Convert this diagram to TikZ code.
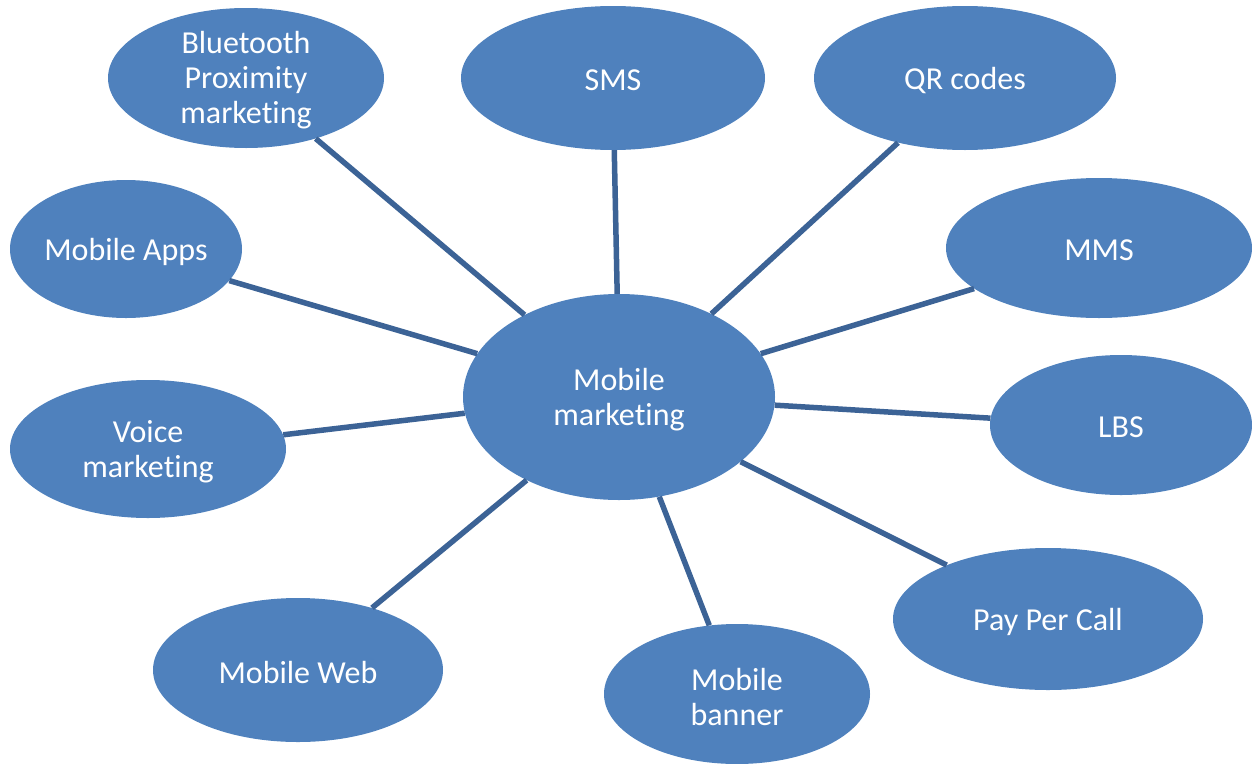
\documentclass[tikz,border=0pt]{standalone}
\usepackage{fontspec}
\setmainfont{Carlito}[Ligatures=NoCommon]
\usetikzlibrary{shapes.geometric}
\definecolor{blobfill}{RGB}{79,129,189}
\definecolor{linkcol}{RGB}{60,99,150}
\tikzset{
  blob/.style={ellipse, fill=blobfill, draw=none, inner sep=0pt},
  txt/.style={text=white, align=center, font=\fontsize{32}{35}\selectfont, inner sep=0pt, yshift=-2.5pt},
  link/.style={draw=linkcol, line width=5.5pt}
}
\begin{document}
\begin{tikzpicture}[x=1pt,y=-1pt]
\useasboundingbox (0,0) rectangle (1252,763);
\node[blob, minimum width=312pt, minimum height=206pt, label={[txt]center:Mobile\\marketing}] (mm) at (619,397) {};
\node[blob, minimum width=276pt, minimum height=140pt, label={[txt]center:Bluetooth\\Proximity\\marketing}] (bt) at (246,78) {};
\node[blob, minimum width=304pt, minimum height=144pt, label={[txt]center:SMS}] (sms) at (613,78) {};
\node[blob, minimum width=302pt, minimum height=144pt, label={[txt]center:QR codes}] (qr) at (965,78) {};
\node[blob, minimum width=232pt, minimum height=138pt, label={[txt]center:Mobile Apps}] (apps) at (126,249) {};
\node[blob, minimum width=306pt, minimum height=140pt, label={[txt]center:MMS}] (mms) at (1099,248) {};
\node[blob, minimum width=276pt, minimum height=138pt, label={[txt]center:Voice\\marketing}] (voice) at (148,449) {};
\node[blob, minimum width=262pt, minimum height=140pt, label={[txt]center:LBS}] (lbs) at (1121,425) {};
\node[blob, minimum width=310pt, minimum height=142pt, label={[txt]center:Pay Per Call}] (ppc) at (1048,619) {};
\node[blob, minimum width=290pt, minimum height=144pt, label={[txt]center:Mobile Web}] (web) at (298,670) {};
\node[blob, minimum width=266pt, minimum height=140pt, label={[txt]center:Mobile\\banner}] (ban) at (737,694) {};
\draw[link] (bt.-41.3) -- (mm.139.4);
\draw[link] (sms.-89) -- (mm.91);
\draw[link] (qr.-136.2) -- (mm.42.1);
\draw[link] (apps.-17.2) -- (mm.163);
\draw[link] (mms.-162.2) -- (mm.17.5);
\draw[link] (voice.6.5) -- (mm.186.2);
\draw[link] (lbs.177) -- (mm.-3.3);
\draw[link] (ppc.152.6) -- (mm.-28);
\draw[link] (web.40.4) -- (mm.-138.7);
\draw[link] (ban.112) -- (mm.-68.7);
\end{tikzpicture}
\end{document}
